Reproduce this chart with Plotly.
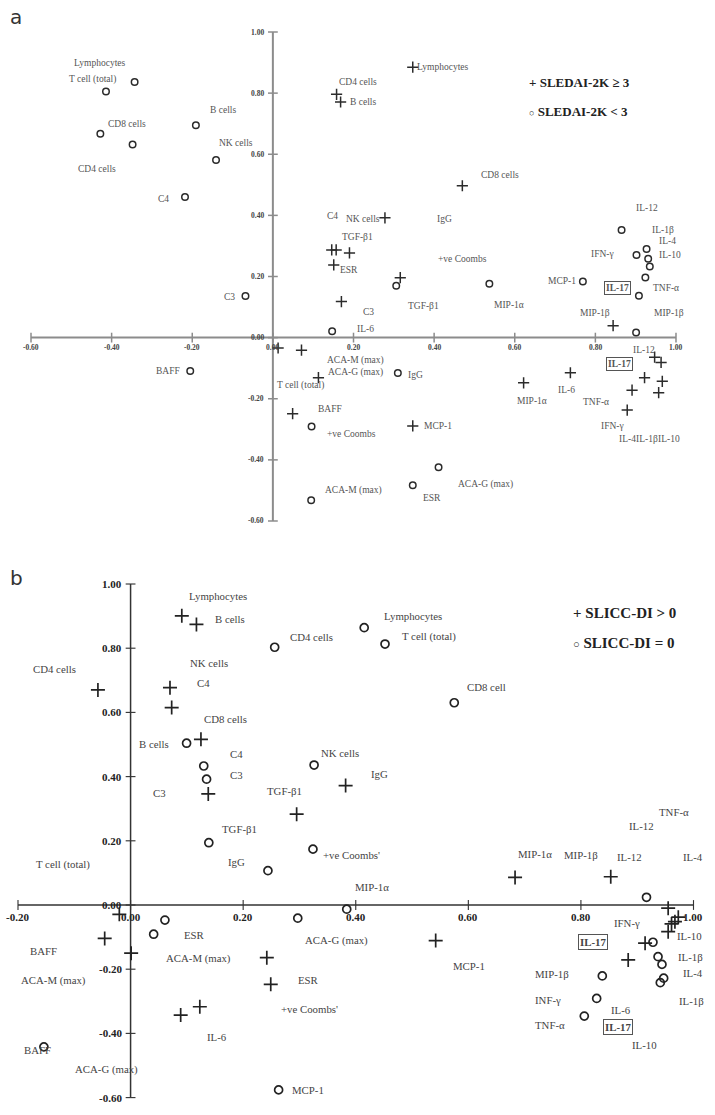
import plotly.graph_objects as go

# ---------------- Panel a data (SLEDAI-2K) ----------------
a_hi_vars = ["Lymphocytes", "CD4 cells", "B cells", "CD8 cells", "C4", "NK cells", "TGF-β1", "ESR", "C3", "IgG",
             "+ve Coombs", "T cell (total)", "ACA-M (max)", "ACA-G (max)", "BAFF", "MCP-1", "MIP-1α", "IL-6",
             "MIP-1β", "IL-12", "IL-17", "IL-10", "IL-1β", "TNF-α", "IL-4", "IFN-γ"]
a_hi_x = [0.347, 0.158, 0.168, 0.470, 0.146, 0.157, 0.190, 0.151, 0.170, 0.278, 0.316, 0.113, 0.013, 0.071,
          0.049, 0.347, 0.622, 0.738, 0.844, 0.947, 0.963, 0.922, 0.966, 0.891, 0.957, 0.879]
a_hi_y = [0.885, 0.796, 0.771, 0.497, 0.287, 0.287, 0.277, 0.238, 0.118, 0.392, 0.196, -0.131, -0.034, -0.041,
          -0.249, -0.289, -0.148, -0.115, 0.039, -0.064, -0.081, -0.131, -0.143, -0.172, -0.180, -0.237]

a_lo_vars = ["Lymphocytes", "T cell (total)", "B cells", "CD8 cells", "CD4 cells", "NK cells", "C4", "C3", "BAFF",
             "IL-6", "IgG", "+ve Coombs", "ACA-M (max)", "ESR", "ACA-G (max)", "TGF-β1", "MIP-1α", "MCP-1",
             "IL-12", "IL-1β", "IFN-γ", "IL-4", "IL-10", "TNF-α", "IL-17", "MIP-1β"]
a_lo_x = [-0.343, -0.414, -0.191, -0.428, -0.348, -0.141, -0.218, -0.068, -0.205, 0.147, 0.310, 0.096, 0.095,
          0.347, 0.411, 0.306, 0.537, 0.769, 0.865, 0.927, 0.902, 0.931, 0.935, 0.924, 0.908, 0.901]
a_lo_y = [0.836, 0.805, 0.695, 0.667, 0.632, 0.581, 0.460, 0.136, -0.109, 0.021, -0.116, -0.291, -0.532,
          -0.483, -0.424, 0.170, 0.176, 0.184, 0.352, 0.290, 0.270, 0.258, 0.233, 0.197, 0.137, 0.017]

a_label_text = ["Lymphocytes", "T cell (total)", "B cells", "CD8 cells", "CD4 cells", "NK cells", "C4", "C3", "BAFF",
                "Lymphocytes", "CD4 cells", "B cells", "CD8 cells", "C4", "NK cells", "IgG", "TGF-β1", "ESR",
                "+ve Coombs", "C3", "TGF-β1", "MIP-1α", "MCP-1", "IL-12", "IL-1β", "IL-4", "IL-10", "IFN-γ",
                "IL-17", "TNF-α", "MIP-1β", "MIP-1β", "IL-6", "ACA-M (max)", "ACA-G (max)", "IgG",
                "T cell (total)", "BAFF", "+ve Coombs", "MCP-1", "ACA-M (max)", "ESR", "ACA-G (max)", "MIP-1α",
                "IL-6", "IL-12", "IL-17", "TNF-α", "IFN-γ", "IL-4", "IL-1β", "IL-10"]
a_label_x = [-0.430, -0.447, -0.124, -0.363, -0.437, -0.092, -0.271, -0.107, -0.261,
             0.422, 0.211, 0.223, 0.564, 0.148, 0.224, 0.425, 0.211, 0.189,
             0.470, 0.237, 0.373, 0.586, 0.717, 0.928, 0.967, 0.980, 0.984, 0.817,
             0.854, 0.976, 0.798, 0.982, 0.229, 0.206, 0.204, 0.353,
             0.069, 0.142, 0.196, 0.410, 0.199, 0.395, 0.527, 0.643,
             0.728, 0.920, 0.860, 0.802, 0.843, 0.879, 0.928, 0.982]
a_label_y = [0.897, 0.845, 0.744, 0.698, 0.551, 0.636, 0.454, 0.134, -0.110,
             0.885, 0.835, 0.770, 0.532, 0.399, 0.388, 0.388, 0.330, 0.220,
             0.257, 0.083, 0.104, 0.108, 0.184, 0.423, 0.352, 0.316, 0.269, 0.274,
             0.162, 0.162, 0.080, 0.080, 0.029, -0.074, -0.115, -0.121,
             -0.157, -0.233, -0.316, -0.290, -0.499, -0.525, -0.482, -0.206,
             -0.170, -0.039, -0.085, -0.211, -0.289, -0.331, -0.333, -0.333]

a_xticks = [-0.60, -0.40, -0.20, 0.00, 0.20, 0.40, 0.60, 0.80, 1.00]
a_yticks = [-0.60, -0.40, -0.20, 0.00, 0.20, 0.40, 0.60, 0.80, 1.00]

# ---------------- Panel b data (SLICC-DI) ----------------
b_pos_vars = ["Lymphocytes", "B cells", "CD4 cells", "NK cells", "C4", "CD8 cells", "C3", "IgG", "TGF-β1",
              "T cell (total)", "BAFF", "ACA-M (max)", "+ve Coombs'", "ESR", "IL-6", "ACA-G (max)", "MIP-1α",
              "IL-12", "MCP-1", "TNF-α", "IL-4", "IL-1β", "IL-10", "IFN-γ", "IL-17", "MIP-1β"]
b_pos_x = [0.091, 0.117, -0.058, 0.070, 0.073, 0.125, 0.138, 0.382, 0.295, -0.020, -0.046, 0.001, 0.242, 0.249,
           0.123, 0.089, 0.683, 0.853, 0.542, 0.955, 0.973, 0.967, 0.961, 0.955, 0.914, 0.884]
b_pos_y = [0.901, 0.874, 0.670, 0.677, 0.615, 0.516, 0.346, 0.372, 0.283, -0.029, -0.104, -0.150, -0.164,
           -0.247, -0.317, -0.343, 0.086, 0.088, -0.111, -0.010, -0.038, -0.052, -0.059, -0.083, -0.119, -0.171]

b_zero_vars = ["CD4 cells", "B cells", "C4", "C3", "NK cells", "Lymphocytes", "T cell (total)", "CD8 cell",
               "TGF-β1", "+ve Coombs'", "IgG", "MIP-1α", "ACA-G (max)", "ESR", "ACA-M (max)", "IL-12", "IL-17",
               "IL-10", "IL-1β", "IL-4", "IL-6", "MIP-1β", "INF-γ", "TNF-α", "MCP-1", "BAFF"]
b_zero_x = [0.256, 0.0995, 0.130, 0.135, 0.326, 0.415, 0.452, 0.575, 0.139, 0.324, 0.244, 0.384, 0.297, 0.061,
            0.041, 0.9165, 0.928, 0.937, 0.944, 0.947, 0.941, 0.838, 0.828, 0.806, 0.263, -0.154]
b_zero_y = [0.803, 0.504, 0.433, 0.392, 0.436, 0.864, 0.813, 0.630, 0.194, 0.174, 0.107, -0.013, -0.041, -0.047,
            -0.091, 0.024, -0.116, -0.161, -0.185, -0.228, -0.242, -0.221, -0.291, -0.346, -0.576, -0.442]

b_label_text = ["Lymphocytes", "B cells", "CD4 cells", "NK cells", "CD4 cells", "C4", "CD8 cells", "B cells", "C4",
                "C3", "NK cells", "C3", "TGF-β1", "Lymphocytes", "T cell (total)", "CD8 cell", "IgG", "TGF-β1",
                "T cell (total)", "IgG", "+ve Coombs'", "MIP-1α", "ESR", "BAFF", "ACA-M (max)", "ACA-M (max)",
                "ESR", "+ve Coombs'", "IL-6", "ACA-G (max)", "BAFF", "MCP-1", "ACA-G (max)", "MCP-1",
                "TNF-α", "IL-12", "IL-4", "MIP-1α", "MIP-1β", "IL-12", "IFN-γ", "IL-17", "IL-10", "IL-1β", "IL-4",
                "IL-1β", "MIP-1β", "INF-γ", "IL-6", "IL-17", "TNF-α", "IL-10"]
b_label_x = [0.1545, 0.176, 0.3215, 0.139, -0.1345, 0.130, 0.169, 0.041, 0.188,
             0.189, 0.372, 0.051, 0.273, 0.502, 0.530, 0.632, 0.4416, 0.193,
             -0.1197, 0.189, 0.3925, 0.428, 0.114, -0.155, 0.120, -0.137,
             0.3155, 0.3185, 0.153, -0.042, -0.165, 0.315, 0.366, 0.601,
             0.965, 0.908, 0.999, 0.718, 0.801, 0.887, 0.881, 0.8206, 0.993, 0.995, 0.999,
             0.9965, 0.748, 0.742, 0.872, 0.866, 0.745, 0.913]
b_label_y = [0.963, 0.890, 0.834, 0.753, 0.735, 0.693, 0.579, 0.501, 0.469,
             0.405, 0.474, 0.348, 0.355, 0.901, 0.836, 0.678, 0.408, 0.236,
             0.125, 0.135, 0.156, 0.055, -0.093, -0.143, -0.168, -0.234,
             -0.234, -0.325, -0.410, -0.514, -0.452, -0.576, -0.112, -0.190,
             0.289, 0.247, 0.150, 0.159, 0.156, 0.149, -0.057, -0.116, -0.0966, -0.161, -0.213,
             -0.299, -0.215, -0.296, -0.327, -0.379, -0.374, -0.436]

b_xticks = [-0.20, 0.00, 0.20, 0.40, 0.60, 0.80, 1.00]
b_yticks = [-0.60, -0.40, -0.20, 0.00, 0.20, 0.40, 0.60, 0.80, 1.00]

BOXED = {"IL-17"}
SERIF = "Liberation Serif"

fig = go.Figure()
annotations = []
shapes = []


def add_panel(xa, ya, xticks, yticks, axis_color, axis_w, tick_font, tick_size, tick_color,
              xlab_shift, ylab_shift, hi, lo, plus_size, circ_size, mark_color, mark_w,
              labels, lab_font, lab_color, legend, legend_size):
    xr, yr = xa.replace("axis", ""), ya.replace("axis", "")
    shapes.append(dict(type="line", xref=xr, yref=yr, x0=min(xticks), x1=max(xticks), y0=0, y1=0,
                       line=dict(color=axis_color, width=axis_w), layer="below"))
    shapes.append(dict(type="line", xref=xr, yref=yr, x0=0, x1=0, y0=min(yticks), y1=max(yticks),
                       line=dict(color=axis_color, width=axis_w), layer="below"))
    fig.add_trace(go.Scatter(x=xticks, y=[0] * len(xticks), mode="markers", xaxis=xr, yaxis=yr,
                             marker=dict(symbol="line-ns-open", size=7, color=axis_color,
                                         line=dict(color=axis_color, width=axis_w * 0.75)),
                             hoverinfo="skip", showlegend=False, cliponaxis=False))
    fig.add_trace(go.Scatter(x=[0] * len(yticks), y=yticks, mode="markers", xaxis=xr, yaxis=yr,
                             marker=dict(symbol="line-ew-open", size=7, color=axis_color,
                                         line=dict(color=axis_color, width=axis_w * 0.75)),
                             hoverinfo="skip", showlegend=False, cliponaxis=False))
    for t in xticks:
        annotations.append(dict(xref=xr, yref=yr, x=t, y=0, text="<b>%.2f</b>" % t, showarrow=False,
                                xanchor="center", yanchor="middle", yshift=xlab_shift,
                                font=dict(family=tick_font, size=tick_size, color=tick_color)))
    for t in yticks:
        annotations.append(dict(xref=xr, yref=yr, x=0, y=t, text="<b>%.2f</b>" % t, showarrow=False,
                                xanchor="right", yanchor="middle", xshift=ylab_shift,
                                font=dict(family=tick_font, size=tick_size, color=tick_color)))
    fig.add_trace(go.Scatter(x=hi[0], y=hi[1], text=hi[2], mode="markers", xaxis=xr, yaxis=yr,
                             marker=dict(symbol="cross-thin-open", size=plus_size, color=mark_color,
                                         line=dict(color=mark_color, width=mark_w)),
                             showlegend=False, cliponaxis=False))
    fig.add_trace(go.Scatter(x=lo[0], y=lo[1], text=lo[2], mode="markers", xaxis=xr, yaxis=yr,
                             marker=dict(symbol="circle-open", size=circ_size, color=mark_color,
                                         line=dict(color=mark_color, width=mark_w)),
                             showlegend=False, cliponaxis=False))
    for txt, x, y in zip(*labels):
        boxed = txt in BOXED
        annotations.append(dict(xref=xr, yref=yr, x=x, y=y,
                                text=("<b>%s</b>" % txt) if boxed else txt, showarrow=False,
                                xanchor="center", yanchor="middle",
                                font=dict(family=SERIF, size=lab_font, color=lab_color),
                                bordercolor="#555" if boxed else None,
                                borderwidth=1 if boxed else 0, borderpad=1))
    for (lx, ly, ltxt) in legend:
        annotations.append(dict(xref=xr, yref=yr, x=lx, y=ly, text=ltxt, showarrow=False,
                                xanchor="left", yanchor="middle",
                                font=dict(family=SERIF, size=legend_size, color="#222")))


add_panel("xaxis", "yaxis", a_xticks, a_yticks, "#8c8c8c", 2, SERIF, 7.5, "#444", -10, -7,
          (a_hi_x, a_hi_y, a_hi_vars), (a_lo_x, a_lo_y, a_lo_vars), 8, 6.5, "#2b2b2b", 1.5,
          (a_label_text, a_label_x, a_label_y), 9.5, "#555",
          [(0.631, 0.836, "<b>+ SLEDAI-2K ≥ 3</b>"),
           (0.631, 0.741, "<span style='font-size:9px'>○</span><b> SLEDAI-2K &lt; 3</b>")], 13)

add_panel("xaxis2", "yaxis2", b_xticks, b_yticks, "#333333", 1.5, SERIF, 11, "#222", -12, -7,
          (b_pos_x, b_pos_y, b_pos_vars), (b_zero_x, b_zero_y, b_zero_vars), 10, 8, "#222", 1.7,
          (b_label_text, b_label_x, b_label_y), 10.8, "#444",
          [(0.783, 0.909, "<b>+ SLICC-DI &gt; 0</b>"),
           (0.783, 0.815, "<span style='font-size:11px'>○</span><b> SLICC-DI = 0</b>")], 15)

annotations.append(dict(xref="paper", yref="paper", x=0.0224, y=0.9848, text="a", showarrow=False,
                        xanchor="center", yanchor="middle", font=dict(family="DejaVu Sans", size=20, color="#333")))
annotations.append(dict(xref="paper", yref="paper", x=0.0224, y=0.4816, text="b", showarrow=False,
                        xanchor="center", yanchor="middle", font=dict(family="DejaVu Sans", size=20, color="#333")))

hidden = dict(visible=False, showgrid=False, zeroline=False)
fig.update_layout(
    width=715, height=1115,
    margin=dict(l=0, r=0, t=0, b=0),
    paper_bgcolor="white", plot_bgcolor="white",
    xaxis=dict(hidden, range=[min(a_xticks), max(a_xticks)], domain=[0.04336, 0.94545]),
    yaxis=dict(hidden, range=[min(a_yticks), max(a_yticks)], domain=[0.53274, 0.97130]),
    xaxis2=dict(hidden, range=[min(b_xticks), max(b_xticks)], domain=[0.02517, 0.96993]),
    yaxis2=dict(hidden, range=[min(b_yticks), max(b_yticks)], domain=[0.01561, 0.47623]),
    annotations=annotations, shapes=shapes, showlegend=False,
)

fig.write_html("out.html", config={"displayModeBar": False},
               post_script="document.body.style.margin='0';document.body.style.overflow='hidden';")
